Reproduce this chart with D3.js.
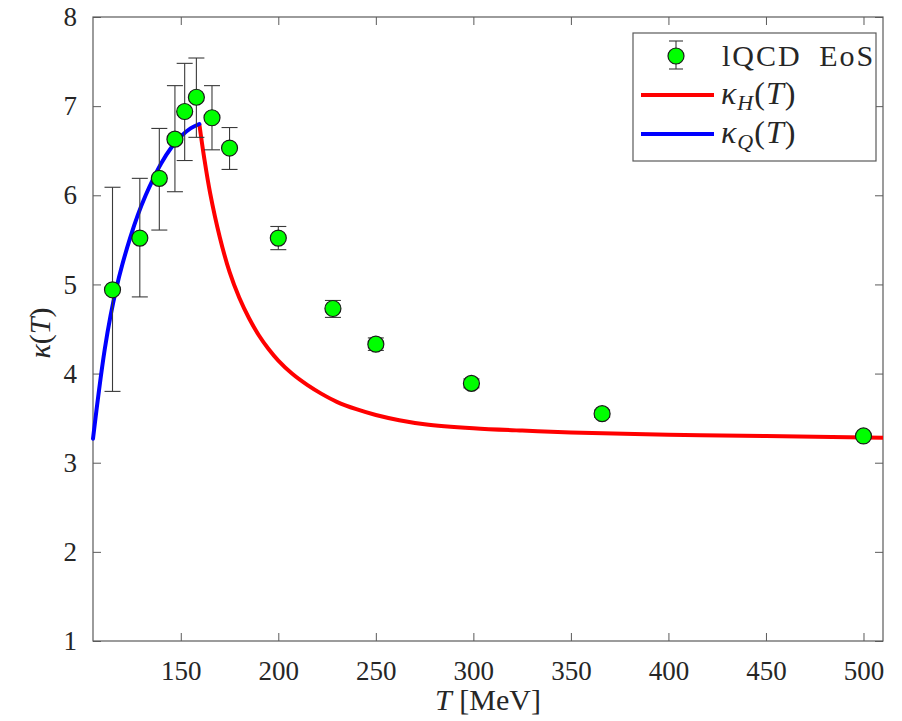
<!DOCTYPE html>
<html>
<head>
<meta charset="utf-8">
<script src="https://cdn.jsdelivr.net/npm/d3@7"></script>
<style>
  body { margin: 0; background: #fff; }
  text { font-family: "Liberation Serif", "Times New Roman", serif; fill: #262626; }
</style>
</head>
<body>
<script>
// lattice QCD points
var temps = [115, 129, 139, 147, 152, 158, 166, 175, 200, 228, 250, 299, 366, 500];
var kappa = [4.94, 5.52, 6.19, 6.63, 6.94, 7.10, 6.87, 6.53, 5.52, 4.73, 4.33, 3.89, 3.55, 3.30];
var errHi = [6.09, 6.19, 6.75, 7.23, 7.48, 7.54, 7.23, 6.76, 5.65, 4.82, 4.40, 3.94, 3.59, 3.32];
var errLo = [3.80, 4.86, 5.61, 6.04, 6.39, 6.65, 6.51, 6.29, 5.39, 4.63, 4.26, 3.84, 3.51, 3.28];

// kappa_Q(T)
var qT = [105, 108, 111, 114, 117, 120, 124, 128, 132, 136, 140, 145, 150, 155, 159.5];
var qK = [3.27, 3.80, 4.27, 4.65, 4.96, 5.22, 5.52, 5.78, 6.00, 6.19, 6.36, 6.53, 6.66, 6.75, 6.80];

// kappa_H(T)
var hT = [159.5, 162, 165, 170, 175, 180, 185, 190, 195, 200, 207, 215, 222, 230, 240, 250, 262, 275, 300, 325, 350, 400, 450, 510];
var hK = [6.80, 6.42, 6.03, 5.53, 5.14, 4.85, 4.62, 4.43, 4.275, 4.145, 4.00, 3.87, 3.775, 3.683, 3.60, 3.535, 3.477, 3.432, 3.387, 3.36, 3.34, 3.315, 3.30, 3.28];

var xTicks = [150, 200, 250, 300, 350, 400, 450, 500];
var yTicks = [1, 2, 3, 4, 5, 6, 7, 8];

var width = 902, height = 721;
var pL = 93, pR = 883, pT = 17, pB = 641;

var svg = d3.select("body").append("svg")
    .attr("width", width)
    .attr("height", height);

var x = d3.scaleLinear().domain([105, 510]).range([pL, pR]);
var y = d3.scaleLinear().domain([1, 8]).range([pB, pT]);

var axisColor = "#5a5a5a";

// ticks on all four sides, pointing inward
var tl = 8;
function styleText(g) {
  g.selectAll("text")
    .attr("font-size", 27)
    .attr("font-family", null)
    .attr("fill", "#262626");
}
svg.append("g").attr("transform", "translate(0," + pB + ")")
  .call(d3.axisBottom(x).tickValues(xTicks).tickSizeInner(-tl).tickSizeOuter(0).tickPadding(13))
  .call(function (g) {
    g.attr("font-family", null);
    g.select(".domain").remove();
    g.selectAll("line").attr("stroke", axisColor);
    styleText(g);
    g.selectAll("text").attr("dy", "0.95em");
  });
svg.append("g").attr("transform", "translate(0," + pT + ")")
  .call(d3.axisTop(x).tickValues(xTicks).tickSizeInner(-tl).tickSizeOuter(0).tickFormat(""))
  .call(function (g) { g.select(".domain").remove(); g.selectAll("line").attr("stroke", axisColor); });
svg.append("g").attr("transform", "translate(" + pL + ",0)")
  .call(d3.axisLeft(y).tickValues(yTicks).tickFormat(d3.format("d")).tickSizeInner(-tl).tickSizeOuter(0).tickPadding(16))
  .call(function (g) {
    g.attr("font-family", null);
    g.select(".domain").remove();
    g.selectAll("line").attr("stroke", axisColor);
    styleText(g);
  });
svg.append("g").attr("transform", "translate(" + pR + ",0)")
  .call(d3.axisRight(y).tickValues(yTicks).tickSizeInner(-tl).tickSizeOuter(0).tickFormat(""))
  .call(function (g) { g.select(".domain").remove(); g.selectAll("line").attr("stroke", axisColor); });

svg.append("rect")
  .attr("x", pL).attr("y", pT)
  .attr("width", pR - pL).attr("height", pB - pT)
  .attr("fill", "none").attr("stroke", axisColor).attr("stroke-width", 1.2);

// curves
var line = d3.line().curve(d3.curveCatmullRom.alpha(0.5))
  .x(function (d) { return x(d[0]); })
  .y(function (d) { return y(d[1]); });

svg.append("path")
  .datum(d3.zip(hT, hK))
  .attr("d", line)
  .attr("fill", "none").attr("stroke", "#ff0000").attr("stroke-width", 4);

svg.append("path")
  .datum(d3.zip(qT, qK))
  .attr("d", line)
  .attr("fill", "none").attr("stroke", "#0000ff").attr("stroke-width", 4)
  .attr("stroke-linecap", "round");

// error bars
var pts = temps.map(function (t, i) { return { t: t, k: kappa[i], hi: errHi[i], lo: errLo[i] }; });
var cap = 8;
var eb = svg.append("g").attr("stroke", "#3a3a3a").attr("stroke-width", 1.1);
pts.forEach(function (d) {
  eb.append("line").attr("x1", x(d.t)).attr("x2", x(d.t)).attr("y1", y(d.hi)).attr("y2", y(d.lo));
  eb.append("line").attr("x1", x(d.t) - cap).attr("x2", x(d.t) + cap).attr("y1", y(d.hi)).attr("y2", y(d.hi));
  eb.append("line").attr("x1", x(d.t) - cap).attr("x2", x(d.t) + cap).attr("y1", y(d.lo)).attr("y2", y(d.lo));
});

svg.selectAll("circle.pt")
  .data(pts)
  .enter().append("circle")
  .attr("class", "pt")
  .attr("cx", function (d) { return x(d.t); })
  .attr("cy", function (d) { return y(d.k); })
  .attr("r", 8)
  .attr("fill", "#00ff00")
  .attr("stroke", "#1a1a1a")
  .attr("stroke-width", 1.2);

// axis labels
var xl = svg.append("text")
  .attr("x", 488).attr("y", 710)
  .attr("text-anchor", "middle")
  .attr("font-size", 30);
xl.append("tspan").attr("font-style", "italic").text("T");
xl.append("tspan").text(" [MeV]");

var yl = svg.append("text")
  .attr("transform", "translate(50,333) rotate(-90)")
  .attr("text-anchor", "middle")
  .attr("font-size", 30);
yl.append("tspan").attr("font-style", "italic").text("κ");
yl.append("tspan").text("(");
yl.append("tspan").attr("font-style", "italic").text("T");
yl.append("tspan").text(")");

// legend
var lg = svg.append("g");
lg.append("rect")
  .attr("x", 633).attr("y", 33).attr("width", 243).attr("height", 128)
  .attr("fill", "#fff").attr("stroke", axisColor).attr("stroke-width", 1.2);

lg.append("line").attr("x1", 676).attr("x2", 676).attr("y1", 41).attr("y2", 69)
  .attr("stroke", "#3a3a3a").attr("stroke-width", 1.1);
lg.append("line").attr("x1", 669).attr("x2", 683).attr("y1", 41).attr("y2", 41)
  .attr("stroke", "#3a3a3a").attr("stroke-width", 1.1);
lg.append("line").attr("x1", 669).attr("x2", 683).attr("y1", 69).attr("y2", 69)
  .attr("stroke", "#3a3a3a").attr("stroke-width", 1.1);
lg.append("circle").attr("cx", 676).attr("cy", 56).attr("r", 8)
  .attr("fill", "#00ff00").attr("stroke", "#1a1a1a").attr("stroke-width", 1.2);
lg.append("text").attr("x", 722).attr("y", 66).attr("font-size", 30)
  .attr("word-spacing", 8).attr("letter-spacing", 2).text("lQCD EoS");

lg.append("line").attr("x1", 641).attr("x2", 714).attr("y1", 95).attr("y2", 95)
  .attr("stroke", "#ff0000").attr("stroke-width", 4);
var t1 = lg.append("text").attr("x", 721).attr("y", 104).attr("font-size", 32).attr("letter-spacing", 1);
t1.append("tspan").attr("font-style", "italic").text("κ");
t1.append("tspan").attr("font-style", "italic").attr("font-size", 22).attr("dy", 6).text("H");
t1.append("tspan").attr("dy", -6).text("(");
t1.append("tspan").attr("font-style", "italic").text("T");
t1.append("tspan").text(")");

lg.append("line").attr("x1", 641).attr("x2", 714).attr("y1", 134).attr("y2", 134)
  .attr("stroke", "#0000ff").attr("stroke-width", 4);
var t2 = lg.append("text").attr("x", 721).attr("y", 143).attr("font-size", 32).attr("letter-spacing", 1);
t2.append("tspan").attr("font-style", "italic").text("κ");
t2.append("tspan").attr("font-style", "italic").attr("font-size", 22).attr("dy", 6).text("Q");
t2.append("tspan").attr("dy", -6).text("(");
t2.append("tspan").attr("font-style", "italic").text("T");
t2.append("tspan").text(")");
</script>
</body>
</html>
